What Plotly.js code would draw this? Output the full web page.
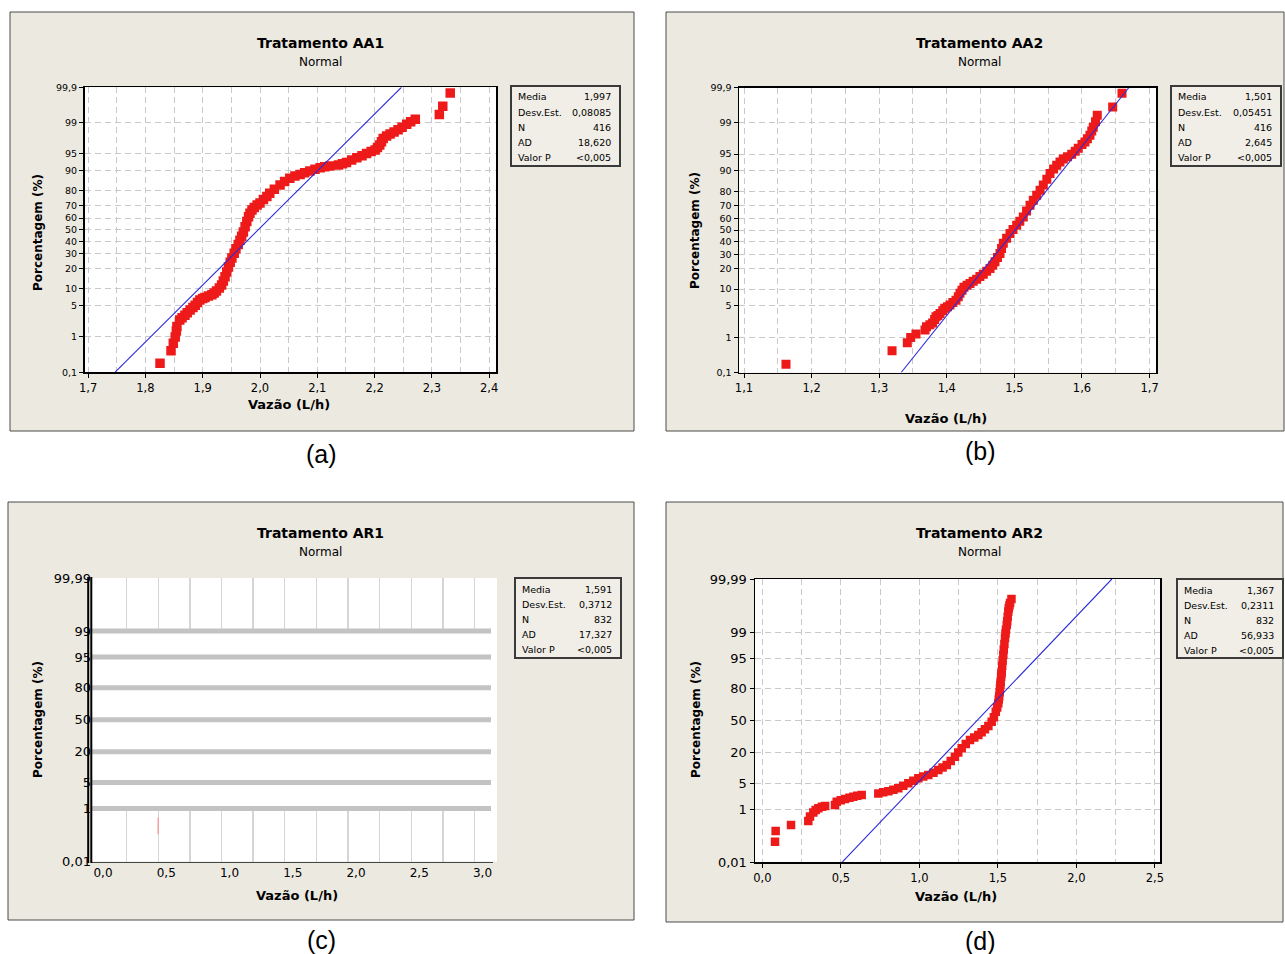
<!DOCTYPE html>
<html>
<head>
<meta charset="utf-8">
<script src="https://cdn.plot.ly/plotly-3.0.1.min.js"></script>
<style>
  html, body { margin: 0; padding: 0; background: #ffffff; }
  #fig { width: 1285px; height: 954px; }
</style>
</head>
<body>
<div id="fig"></div>
<script>
// Normal probability plots of flow rate (Vazão) for four treatments.

// ---------- data ----------
const panelTitles = ['Tratamento AA1', 'Tratamento AA2', 'Tratamento AR1', 'Tratamento AR2'];
const panelSubtitle = 'Normal';
const captions = ['(a)', '(b)', '(c)', '(d)'];
const xTitle = 'Vazão (L/h)';
const yTitle = 'Porcentagem (%)';
const statNames = ['Media', 'Desv.Est.', 'N', 'AD', 'Valor P'];
const statsAA1 = ['1,997', '0,08085', '416', '18,620', '<0,005'];
const statsAA2 = ['1,501', '0,05451', '416', '2,645', '<0,005'];
const statsAR1 = ['1,591', '0,3712', '832', '17,327', '<0,005'];
const statsAR2 = ['1,367', '0,2311', '832', '56,933', '<0,005'];

const pctTicksAA = [0.1, 1, 5, 10, 20, 30, 40, 50, 60, 70, 80, 90, 95, 99, 99.9];
const pctTicksAR = [0.01, 1, 5, 20, 50, 80, 95, 99, 99.99];

const vazaoAA1 = [1.8255, 1.8447, 1.8487, 1.852, 1.854, 1.855, 1.860, 1.864, 1.869, 1.873,
  1.878, 1.883, 1.887, 1.891, 1.895, 1.900, 1.904, 1.910, 1.916, 1.920,
  1.924, 1.929, 1.933, 1.936, 1.939, 1.942, 1.945, 1.948, 1.951, 1.955,
  1.958, 1.962, 1.965, 1.968, 1.971, 1.974, 1.977, 1.980, 1.9825, 1.986,
  1.990, 1.995, 2.000, 2.006, 2.012, 2.017, 2.025, 2.035, 2.043, 2.052,
  2.061, 2.070, 2.078, 2.087, 2.096, 2.105, 2.113, 2.122, 2.137, 2.144,
  2.151, 2.160, 2.169, 2.178, 2.186, 2.194, 2.201, 2.205, 2.209, 2.212,
  2.215, 2.221, 2.227, 2.234, 2.241, 2.248, 2.256, 2.263, 2.271, 2.313,
  2.319, 2.332];
const pctAA1 = [0.19, 0.43, 0.69, 1.0, 1.4, 1.8, 2.5, 2.8, 3.2, 3.6,
  4.1, 4.6, 5.1, 5.7, 6.4, 6.8, 7.1, 7.5, 7.9, 8.5,
  9.2, 10.3, 11.5, 13.3, 15.4, 18, 21, 24, 27, 30.5,
  34, 37.5, 41, 44.5, 48, 52.5, 57, 61, 64, 66.5,
  68.5, 70.5, 72, 74.5, 76.5, 78.5, 81, 83.4, 85.2, 86.8,
  87.8, 88.5, 89.2, 89.9, 90.5, 91.1, 91.4, 91.7, 92.0, 92.4,
  92.8, 93.5, 94.1, 94.6, 95.1, 95.5, 95.8, 96.3, 96.7, 97.2,
  97.6, 97.9, 98.1, 98.3, 98.5, 98.7, 98.9, 99.05, 99.17, 99.38,
  99.63, 99.85];

const vazaoAA2 = [1.1621, 1.319, 1.3416, 1.3466, 1.3544, 1.3678, 1.370, 1.375, 1.379, 1.382,
  1.384, 1.387, 1.390, 1.394, 1.397, 1.401, 1.4047, 1.409, 1.4136, 1.417,
  1.4195, 1.4225, 1.4254, 1.430, 1.4343, 1.439, 1.4442, 1.449, 1.454, 1.459,
  1.464, 1.468, 1.4713, 1.475, 1.4787, 1.481, 1.4836, 1.4885, 1.4935, 1.498,
  1.5034, 1.508, 1.5132, 1.518, 1.5231, 1.528, 1.533, 1.538, 1.5428, 1.548,
  1.5527, 1.558, 1.5626, 1.5675, 1.5723, 1.5785, 1.5848, 1.590, 1.5945, 1.600,
  1.6044, 1.608, 1.6118, 1.6145, 1.6167, 1.620, 1.6226, 1.6454, 1.6592];
const pctAA2 = [0.18, 0.44, 0.72, 0.99, 1.2, 1.5, 1.8, 2.0, 2.2, 2.6,
  3.0, 3.2, 3.5, 4.0, 4.5, 4.8, 5.2, 5.8, 6.4, 7.4,
  8.5, 9.6, 10.7, 11.5, 12.3, 13.3, 14.3, 15.6, 16.9, 18.5,
  20.2, 22.3, 24.5, 27.5, 30.6, 34.5, 38.6, 43, 47, 50.5,
  54, 57.5, 61, 66, 70.5, 74, 77.5, 80.5, 83.5, 86.5,
  89, 90.7, 92, 93, 93.8, 94.4, 95, 95.6, 96.2, 96.8,
  97.2, 97.6, 98.0, 98.4, 98.7, 99.05, 99.36, 99.62, 99.85];

// only a stray sliver of the AR1 sample is visible
const vazaoAR1 = [0.5];
const pctAR1 = [0.27];

const vazaoAR2 = [0.081, 0.085, 0.183, 0.293, 0.304, 0.325, 0.340, 0.357, 0.380, 0.400,
  0.463, 0.474, 0.500, 0.527, 0.555, 0.580, 0.605, 0.633, 0.739, 0.770,
  0.803, 0.835, 0.866, 0.898, 0.930, 0.962, 0.994, 1.025, 1.057, 1.090,
  1.121, 1.148, 1.175, 1.200, 1.227, 1.248, 1.270, 1.296, 1.323, 1.350,
  1.376, 1.397, 1.418, 1.440, 1.461, 1.475, 1.487, 1.496, 1.503, 1.506,
  1.509, 1.512, 1.514, 1.516, 1.518, 1.521, 1.523, 1.525, 1.528, 1.531,
  1.535, 1.538, 1.542, 1.546, 1.549, 1.552, 1.557, 1.560, 1.563, 1.567,
  1.570, 1.574, 1.578, 1.587];
const pctAR2 = [0.074, 0.19, 0.31, 0.42, 0.59, 0.80, 0.95, 1.07, 1.18, 1.25,
  1.34, 1.66, 1.82, 1.97, 2.15, 2.3, 2.45, 2.56, 2.8, 3.0,
  3.2, 3.5, 3.8, 4.4, 5.0, 5.7, 6.5, 7.1, 7.7, 8.6,
  9.8, 10.9, 12.2, 14.5, 17.2, 20.1, 23.4, 27, 30.6, 33,
  35.3, 38, 41, 44.5, 48.9, 53.5, 59.3, 63.5, 67.5, 71,
  74, 77.2, 80.2, 82.5, 84.5, 87.5, 89, 90.1, 92.5, 94.3,
  95.8, 96.9, 97.8, 98.5, 98.9, 99.15, 99.4, 99.55, 99.68, 99.79,
  99.84, 99.875, 99.9, 99.93];

// ---------- helpers ----------
// inverse standard normal CDF (Acklam), used for the probability scale
function probit(p) {
  const a = [-3.969683028665376e+01, 2.209460984245205e+02, -2.759285104469687e+02,
             1.383577518672690e+02, -3.066479806614716e+01, 2.506628277459239e+00];
  const b = [-5.447609879822406e+01, 1.615858368580409e+02, -1.556989798598866e+02,
             6.680131188771972e+01, -1.328068155288572e+01];
  const c = [-7.784894002430293e-03, -3.223964580411365e-01, -2.400758276161838e+00,
             -2.549671010050036e+00, 4.374664141464968e+00, 2.938163982698783e+00];
  const d = [7.784695709041462e-03, 3.224671290700398e-01, 2.445134137142996e+00,
             3.754408661907416e+00];
  const pl = 0.02425, ph = 1 - pl;
  let q, r;
  if (p < pl) {
    q = Math.sqrt(-2 * Math.log(p));
    return (((((c[0]*q + c[1])*q + c[2])*q + c[3])*q + c[4])*q + c[5]) /
           ((((d[0]*q + d[1])*q + d[2])*q + d[3])*q + 1);
  }
  if (p > ph) {
    q = Math.sqrt(-2 * Math.log(1 - p));
    return -(((((c[0]*q + c[1])*q + c[2])*q + c[3])*q + c[4])*q + c[5]) /
            ((((d[0]*q + d[1])*q + d[2])*q + d[3])*q + 1);
  }
  q = p - 0.5; r = q * q;
  return (((((a[0]*r + a[1])*r + a[2])*r + a[3])*r + a[4])*r + a[5]) * q /
         (((((b[0]*r + b[1])*r + b[2])*r + b[3])*r + b[4])*r + 1);
}
const zOf = pct => probit(pct / 100);
const num = s => parseFloat(s.replace('<', '').replace(',', '.'));
const fmtPct = v => String(v).replace('.', ',');

const W = 1285, H = 954;
const fx = v => v / W;
const fy = v => 1 - v / H;

// ---------- styling constants ----------
const BEIGE = '#ECE9E0';
const RED = '#EE1A1A';
const BLUE = '#2A2ADC';
const GRID = '#C9C9C9';
const SANS = 'DejaVu Sans, Verdana, sans-serif';
const TITLE_FONT = {family: SANS, size: 14, weight: 'bold', color: '#000'};
const SUB_FONT = {family: SANS, size: 12, color: '#000'};
const AXT_FONT = {family: SANS, size: 13, weight: 'bold', color: '#000'};
const YT_FONT = {family: SANS, size: 12, weight: 'bold', color: '#000'};
const TICK_FONT = {family: SANS, size: 11.5, color: '#000'};
const STAT_FONT = {family: SANS, size: 9.5, color: '#000'};

const zA = probit(0.999);   // 0,1 .. 99,9 scale
const zR = probit(0.9999);  // 0,01 .. 99,99 scale

// ---------- traces ----------
function pointTrace(xs, ps, k, size) {
  const sfx = k === 1 ? '' : String(k);
  return {
    type: 'scatter', mode: 'markers', x: xs, y: ps.map(zOf),
    xaxis: 'x' + sfx, yaxis: 'y' + sfx,
    marker: {symbol: 'square', size: size, color: RED, line: {width: 0}},
    hoverinfo: 'skip', showlegend: false
  };
}
function fitTrace(stats, zmax, k) {
  const sfx = k === 1 ? '' : String(k);
  const m = num(stats[0]), s = num(stats[1]);
  return {
    type: 'scatter', mode: 'lines',
    x: [m - s * zmax, m + s * zmax], y: [-zmax, zmax],
    xaxis: 'x' + sfx, yaxis: 'y' + sfx,
    line: {color: BLUE, width: 1.1}, hoverinfo: 'skip', showlegend: false
  };
}

const traces = [
  pointTrace(vazaoAA1, pctAA1, 1, 9.5), fitTrace(statsAA1, zA, 1),
  pointTrace(vazaoAA2, pctAA2, 2, 9), fitTrace(statsAA2, zA, 2),
  {
    type: 'scatter', mode: 'markers', x: vazaoAR1, y: pctAR1.map(zOf),
    xaxis: 'x3', yaxis: 'y3',
    marker: {symbol: 'line-ns', size: 12, line: {color: '#F2A0A0', width: 1.5}},
    hoverinfo: 'skip', showlegend: false
  },
  pointTrace(vazaoAR2, pctAR2, 4, 8.5), fitTrace(statsAR2, zR, 4)
];

// ---------- axes ----------
function xAxis(domainPx, range, tick0, dtick, minorDtick) {
  return {
    domain: [fx(domainPx[0]), fx(domainPx[1])], range: range,
    tick0: tick0, dtick: dtick, tickformat: '.1f',
    showline: true, mirror: true, linecolor: '#000', linewidth: 1.5,
    ticks: 'outside', ticklen: 4, tickcolor: '#000', tickwidth: 1,
    tickfont: TICK_FONT,
    showgrid: true, gridcolor: GRID, griddash: '6px,4px', gridwidth: 1,
    minor: {tick0: tick0, dtick: minorDtick, showgrid: true, gridcolor: GRID,
            griddash: '6px,4px', gridwidth: 1, ticks: ''},
    zeroline: false, fixedrange: true, automargin: false
  };
}
function yAxis(domainPx, zmax, ticks, tickSize) {
  return {
    domain: [fy(domainPx[1]), fy(domainPx[0])], range: [-zmax, zmax],
    tickmode: 'array', tickvals: ticks.map(zOf), ticktext: ticks.map(fmtPct),
    showline: true, mirror: true, linecolor: '#000', linewidth: 1.5,
    ticks: 'outside', ticklen: 4, tickcolor: '#000', tickwidth: 1,
    tickfont: Object.assign({}, TICK_FONT, {size: tickSize}),
    showgrid: true, gridcolor: GRID, griddash: '6px,4px', gridwidth: 1,
    zeroline: false, fixedrange: true, automargin: false
  };
}

const layout = {
  width: W, height: H,
  margin: {l: 0, r: 0, t: 0, b: 0, pad: 0, autoexpand: false},
  paper_bgcolor: '#ffffff', plot_bgcolor: 'rgba(0,0,0,0)',
  separators: ',.',
  showlegend: false,
  font: {family: SANS, color: '#000'},

  xaxis: xAxis([84.5, 496], [1.6937, 2.4119], 1.7, 0.1, 0.05),
  yaxis: yAxis([87.3, 372.2], zA, pctTicksAA, 9.5),

  xaxis2: Object.assign(xAxis([739, 1156], [1.0926, 1.7095], 1.1, 0.1, 0.05), {anchor: 'y2'}),
  yaxis2: Object.assign(yAxis([87.5, 372.5], zA, pctTicksAA, 9.5), {anchor: 'x2'}),

  xaxis3: {
    anchor: 'y3', domain: [fx(92), fx(493)], range: [-0.0237, 3.1462],
    tick0: 0, dtick: 0.5, tickformat: '.1f', ticklabelshift: 8,
    showline: true, mirror: false, linecolor: '#444', linewidth: 1.5,
    ticks: '', tickfont: Object.assign({}, TICK_FONT, {size: 12}),
    showgrid: false,
    minor: {tickmode: 'array', tickvals: Array.from({length: 12}, (_, i) => 0.25 * (i + 1)),
            showgrid: true, gridcolor: '#D6D6D6', gridwidth: 1.3, ticks: ''},
    zeroline: false, fixedrange: true, automargin: false
  },
  yaxis3: {
    anchor: 'x3', domain: [fy(861.5), fy(578)], range: [-zR, zR],
    tickmode: 'array', tickvals: pctTicksAR.map(zOf), ticktext: pctTicksAR.map(fmtPct),
    showline: false, ticks: '', tickfont: Object.assign({}, TICK_FONT, {size: 13}),
    showgrid: false, zeroline: false, fixedrange: true, automargin: false
  },

  xaxis4: Object.assign(xAxis([755, 1160], [-0.0465, 2.533], 0, 0.5, 0.25), {anchor: 'y4'}),
  yaxis4: Object.assign(yAxis([579, 862.3], zR, pctTicksAR, 13), {anchor: 'x4'}),

  shapes: [],
  annotations: []
};

// ---------- panel frames, plot backgrounds, stats boxes ----------
const panelBoxes = [[10, 12, 634, 431], [666, 12, 1284, 431], [8, 502, 634, 920], [666, 502, 1283, 922]];
panelBoxes.forEach(b => layout.shapes.push({
  type: 'rect', xref: 'paper', yref: 'paper', layer: 'below',
  x0: fx(b[0]), x1: fx(b[2]), y0: fy(b[3]), y1: fy(b[1]),
  fillcolor: BEIGE, line: {color: '#4A4A4A', width: 1}
}));
['x', 'x2', 'x4'].forEach((xa, i) => {
  const ya = ['y', 'y2', 'y4'][i];
  layout.shapes.push({
    type: 'rect', xref: xa + ' domain', yref: ya + ' domain', layer: 'below',
    x0: 0, x1: 1, y0: 0, y1: 1, fillcolor: '#ffffff', line: {width: 0}
  });
});
layout.shapes.push({
  type: 'rect', xref: 'x3 domain', yref: 'y3 domain', layer: 'below',
  x0: 0, x1: 1.01, y0: 0, y1: 1, fillcolor: '#ffffff', line: {width: 0}
});
// AR1: blank band between 1 % and 99 %, crossed by heavy grey grid bars
layout.shapes.push({
  type: 'rect', xref: 'x3 domain', yref: 'y3', layer: 'above',
  x0: 0, x1: 0.995, y0: zOf(1), y1: zOf(99), fillcolor: '#ffffff', line: {width: 0}
});
pctTicksAR.slice(1, -1).forEach(p => layout.shapes.push({
  type: 'line', xref: 'x3 domain', yref: 'y3', layer: 'above',
  x0: 0, x1: 0.995, y0: zOf(p), y1: zOf(p), line: {color: '#C3C3C3', width: 5}
}));
// AR1: doubled vertical axis rule
[88.2, 91.3].forEach(xp => layout.shapes.push({
  type: 'line', xref: 'paper', yref: 'paper', layer: 'above',
  x0: fx(xp), x1: fx(xp), y0: fy(863), y1: fy(577), line: {color: '#000', width: 2}
}));

const statBoxes = [[511, 86, 620, 166], [1171, 86, 1281, 166], [515, 578, 621, 658], [1177, 579, 1283, 658]];
const statSets = [statsAA1, statsAA2, statsAR1, statsAR2];
statBoxes.forEach((b, k) => {
  layout.shapes.push({
    type: 'rect', xref: 'paper', yref: 'paper', layer: 'above',
    x0: fx(b[0]), x1: fx(b[2]), y0: fy(b[3]), y1: fy(b[1]),
    fillcolor: '#F1EEE7', line: {color: '#3A3A3A', width: 2}
  });
  statNames.forEach((name, i) => {
    const yy = fy(b[1] + 11 + 15.2 * i);
    layout.annotations.push({
      xref: 'paper', yref: 'paper', x: fx(b[0] + 5), y: yy, xanchor: 'left', yanchor: 'middle',
      text: name, showarrow: false, font: STAT_FONT
    });
    layout.annotations.push({
      xref: 'paper', yref: 'paper', x: fx(b[2] - 7), y: yy, xanchor: 'right', yanchor: 'middle',
      text: statSets[k][i], showarrow: false, font: STAT_FONT
    });
  });
});

// ---------- titles, axis titles and captions ----------
const titlePos = [[320, 43], [980, 43], [320, 533], [980, 533]];
panelTitles.forEach((t, k) => {
  layout.annotations.push({
    xref: 'paper', yref: 'paper', x: fx(titlePos[k][0]), y: fy(titlePos[k][1]),
    xanchor: 'center', yanchor: 'middle', text: t, showarrow: false, font: TITLE_FONT
  });
  layout.annotations.push({
    xref: 'paper', yref: 'paper', x: fx(titlePos[k][0]), y: fy(titlePos[k][1] + 19),
    xanchor: 'center', yanchor: 'middle', text: panelSubtitle, showarrow: false, font: SUB_FONT
  });
});
const xTitlePos = [[289, 404], [946, 418], [297, 895], [956, 896]];
xTitlePos.forEach(p => layout.annotations.push({
  xref: 'paper', yref: 'paper', x: fx(p[0]), y: fy(p[1]), xanchor: 'center', yanchor: 'middle',
  text: xTitle, showarrow: false, font: AXT_FONT
}));
const yTitlePos = [[38, 233], [695, 231], [38, 720], [696, 720]];
yTitlePos.forEach(p => layout.annotations.push({
  xref: 'paper', yref: 'paper', x: fx(p[0]), y: fy(p[1]), xanchor: 'center', yanchor: 'middle',
  text: yTitle, textangle: -90, showarrow: false, font: YT_FONT
}));
const captionPos = [[321, 454], [981, 451], [321, 940], [981, 941]];
captions.forEach((c, k) => layout.annotations.push({
  xref: 'paper', yref: 'paper', x: fx(captionPos[k][0]), y: fy(captionPos[k][1]),
  xanchor: 'center', yanchor: 'middle', text: c, showarrow: false,
  font: {family: 'Liberation Sans, Arial, sans-serif', size: 25, color: '#000'}
}));

Plotly.newPlot('fig', traces, layout, {staticPlot: true, displayModeBar: false});
</script>
</body>
</html>
